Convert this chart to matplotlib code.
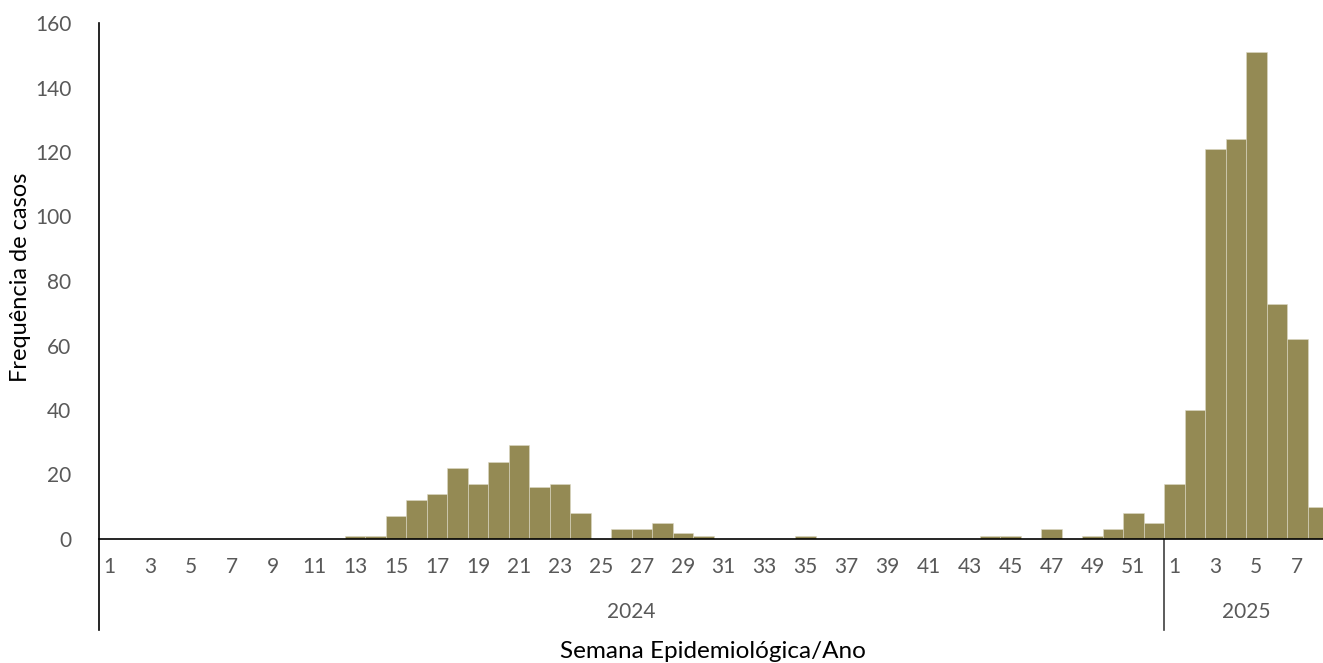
import numpy as np
import matplotlib
matplotlib.use("Agg")
from matplotlib import pyplot as plt

# casos por semana epidemiologica
casos_2024 = [0, 0, 0, 0, 0, 0, 0, 0, 0, 0, 0, 0,
              1, 1, 7, 12, 14, 22, 17, 24, 29, 16, 17, 8,
              0, 3, 3, 5, 2, 1, 0, 0, 0, 0, 1, 0,
              0, 0, 0, 0, 0, 0, 0, 1, 1, 0, 3, 0,
              1, 3, 8, 5]
casos_2025 = [17, 40, 121, 124, 151, 73, 62, 10]
anos = ["2024", "2025"]

semanas = list(range(1, len(casos_2024) + 1)) + list(range(1, len(casos_2025) + 1))
casos = casos_2024 + casos_2025
x = np.arange(len(casos))

plt.rcParams['font.family'] = ['Lato', 'DejaVu Sans']

fig = plt.figure(figsize=(13.23, 6.63), dpi=100)
ax = fig.add_axes([99/1323, 124/663, 1229/1323, 516/663])

ax.bar(x, casos, width=1.0, color="#948A54", edgecolor="#DCD8C4", linewidth=0.4)

ax.set_xlim(-0.5, len(casos) - 0.5)
ax.set_ylim(0, 160)
ax.set_yticks(np.arange(0, 161, 20))
ax.tick_params(axis="y", length=0, pad=20, labelsize=15, labelcolor="#595959")

# rotulos das semanas (uma sim, uma nao)
pos = [i for i in x if semanas[i] % 2 == 1]
ax.set_xticks(pos)
ax.set_xticklabels([str(semanas[i]) for i in pos])
ax.tick_params(axis="x", length=0, pad=13, labelsize=15, labelcolor="#595959")

for s in ["top", "right", "left"]:
    ax.spines[s].set_visible(False)
ax.spines["bottom"].set_color("#000000")
ax.spines["bottom"].set_linewidth(1.2)

# linhas dos grupos de anos
tr = ax.get_xaxis_transform()
n24 = len(casos_2024)
ax.plot([-0.5, -0.5], [-0.176, 1], transform=tr, color="#000000", lw=1.2, clip_on=False)
ax.plot([n24 - 0.5, n24 - 0.5], [-0.176, 0], transform=tr, color="#404040", lw=1.2, clip_on=False)
ax.text((n24 - 1) / 2, -0.142, anos[0], transform=tr, ha="center", va="center",
        fontsize=15, color="#595959")
ax.text(n24 - 0.5 + len(casos_2025) / 2, -0.142, anos[1], transform=tr, ha="center",
        va="center", fontsize=15, color="#595959")

fig.text(713/1323, 1 - 651/663, "Semana Epidemiológica/Ano", fontsize=17.5,
         ha="center", va="center", color="#000000")
fig.text(21/1323, 1 - 277/663, "Frequência de casos", fontsize=17, rotation=90,
         ha="center", va="center", color="#000000")

fig.savefig("out.png", dpi=100)
